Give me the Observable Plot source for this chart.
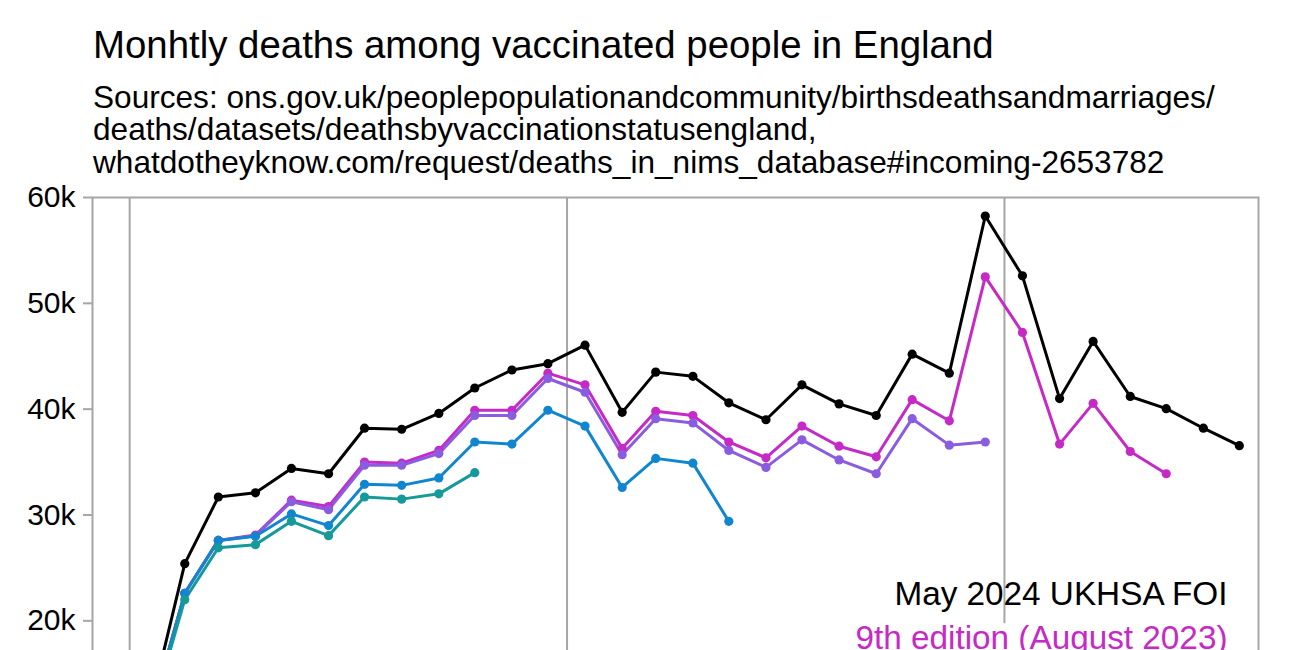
<!DOCTYPE html>
<html>
<head>
<meta charset="utf-8">
<script src="https://cdn.jsdelivr.net/npm/d3@7"></script>
<script src="https://cdn.jsdelivr.net/npm/@observablehq/plot@0.6"></script>
<style>
  html, body { margin: 0; padding: 0; background: #fff; }
  body { font-family: "Liberation Sans", Arial, Helvetica, sans-serif; color: #000; }
  #title { position: absolute; left: 93px; top: 24.7px; font-size: 38.4px; line-height: 40px; white-space: nowrap; }
  #subtitle { position: absolute; left: 93px; top: 80.8px; font-size: 31.6px; line-height: 32.5px; white-space: nowrap; }
  #chart { position: absolute; left: 0; top: 180px; }
</style>
</head>
<body>
<div id="title">Monhtly deaths among vaccinated people in England</div>
<div id="subtitle">Sources: ons.gov.uk/peoplepopulationandcommunity/birthsdeathsandmarriages/<br>deaths/datasets/deathsbyvaccinationstatusengland,<br>whatdotheyknow.com/request/deaths_in_nims_database#incoming-2653782</div>
<div id="chart"></div>
<script>
// ---- data ----
const months = [
  "2021-01","2021-02","2021-03","2021-04","2021-05","2021-06","2021-07","2021-08","2021-09","2021-10","2021-11","2021-12",
  "2022-01","2022-02","2022-03","2022-04","2022-05","2022-06","2022-07","2022-08","2022-09","2022-10","2022-11","2022-12",
  "2023-01","2023-02","2023-03","2023-04","2023-05","2023-06","2023-07"
];
const seriesNames = [
  "May 2024 UKHSA FOI",
  "9th edition (August 2023)",
  "8th edition (February 2023)",
  "7th edition (July 2022)",
  "3rd edition (December 2021)"
];
const seriesColors = ["#000000", "#c62ac6", "#8a5cdf", "#1086d0", "#16999a"];

const ukhsaFoi = [10800, 25400, 31700, 32100, 34400, 33900, 38200, 38100, 39600, 42000, 43700, 44300,
  46050, 39700, 43500, 43100, 40600, 39000, 42300, 40500, 39400, 45200, 43400, 58250,
  52600, 41000, 46400, 41200, 40050, 38200, 36550];
const edition9 = [10200, 22600, 27600, 28100, 31400, 30800, 35000, 34900, 36100, 39900, 39900, 43400,
  42300, 36300, 39800, 39400, 36900, 35400, 38400, 36500, 35500, 40900, 38900, 52500,
  47250, 36700, 40550, 36000, 33900];
const edition8 = [10200, 22600, 27600, 28050, 31250, 30500, 34700, 34700, 35800, 39400, 39400, 42900,
  41600, 35700, 39100, 38700, 36100, 34500, 37100, 35200, 33900, 39100, 36600, 36900];
const edition7 = [10200, 22600, 27600, 28000, 30100, 29000, 32900, 32800, 33500, 36900, 36700, 39900,
  38400, 32600, 35350, 34900, 29400];
const edition3 = [9800, 22000, 26900, 27200, 29400, 28050, 31700, 31500, 32000, 34000];

const seriesValues = [ukhsaFoi, edition9, edition8, edition7, edition3];
const yearStarts = ["2021-01-01", "2022-01-01", "2023-01-01"];
const yTicks = [0, 10000, 20000, 30000, 40000, 50000, 60000];

// ---- table ----
const rows = [];
seriesNames.forEach((name, i) => {
  seriesValues[i].forEach((v, j) => {
    const [yy, mm] = months[j].split("-").map(Number);
    rows.push({series: name, date: new Date(Date.UTC(yy, mm - 1, 16)), value: v});
  });
});
const yearDates = yearStarts.map(s => new Date(s + "T00:00:00Z"));

const gray = "#a6a6a6";
const FS = 30;
const LFS = 33.3;

const legendMarks = seriesNames.map((name, i) => Plot.text([name], {
  text: d => d,
  frameAnchor: "bottom-right",
  textAnchor: "end",
  lineAnchor: "middle",
  dx: -31,
  dy: -237.7 + 44 * i,
  fontSize: LFS,
  fill: seriesColors[i],
  ...(i > 0 ? {stroke: "white", strokeWidth: 16, strokeLinejoin: "round"} : {})
}));

const chart = Plot.plot({
  width: 1300,
  height: 702,
  marginTop: 17,
  marginLeft: 92,
  marginRight: 42,
  marginBottom: 50,
  style: {fontFamily: "'Liberation Sans', Arial, Helvetica, sans-serif", background: "white", color: "black", overflow: "visible"},
  x: {type: "utc", domain: [new Date(Date.UTC(2020, 11, 1)), new Date(Date.UTC(2023, 7, 1))]},
  y: {domain: [0, 60000]},
  color: {domain: seriesNames, range: seriesColors},
  marks: [
    Plot.ruleX(yearDates, {stroke: gray, strokeWidth: 2}),
    Plot.frame({stroke: gray, strokeWidth: 2}),
    Plot.axisY({ticks: yTicks, tickFormat: d => d === 0 ? "0" : (d / 1000) + "k", tickSize: 9, tickPadding: 8,
      stroke: gray, strokeWidth: 2, fill: "black", fontSize: FS, label: null}),
    Plot.axisX({ticks: yearDates, tickFormat: d3.utcFormat("%Y"), tickSize: 0, tickPadding: 14,
      fill: "black", fontSize: FS, label: null}),
    Plot.line(rows, {x: "date", y: "value", z: "series", stroke: "series", strokeWidth: 3, strokeLinejoin: "round"}),
    Plot.dot(rows, {x: "date", y: "value", fill: "series", r: 4.6}),
    ...legendMarks
  ]
});
document.getElementById("chart").appendChild(chart);
</script>
</body>
</html>
